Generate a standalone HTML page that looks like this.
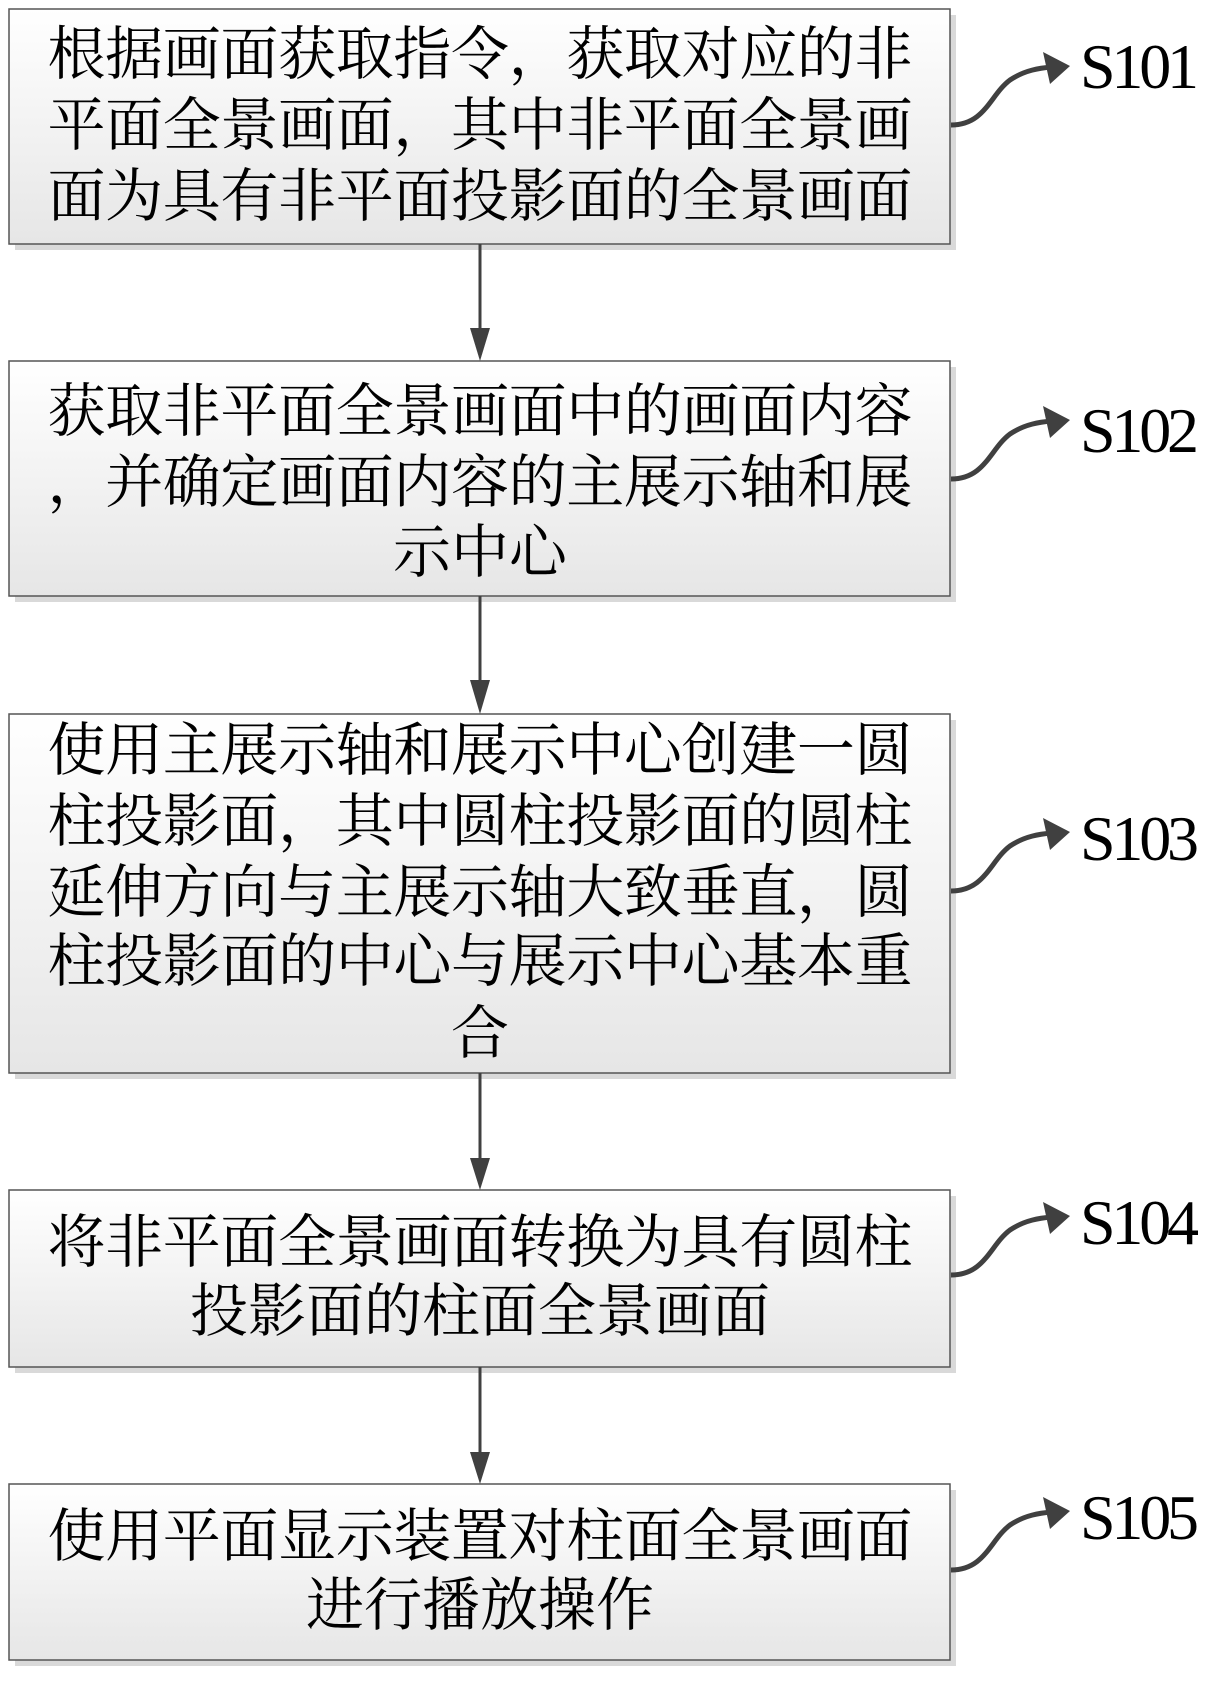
<!DOCTYPE html>
<html><head><meta charset="utf-8"><style>
html,body{margin:0;padding:0;background:#fff;}
svg{display:block;}
.t{font-family:"Liberation Serif","Noto Serif CJK SC",serif;font-size:58px;fill:#000;}
.l{font-family:"Liberation Serif",serif;font-size:64px;fill:#000;}
</style></head><body>
<svg width="1209" height="1681" viewBox="0 0 1209 1681" xmlns="http://www.w3.org/2000/svg">
<defs>
<linearGradient id="g" x1="0" y1="0" x2="0" y2="1">
<stop offset="0" stop-color="#ffffff"/><stop offset="1" stop-color="#e6e6e6"/>
</linearGradient>
</defs>
<g fill="#d9d9d9">
<rect x="15" y="15" width="941" height="235"/>
<rect x="15" y="367" width="941" height="235"/>
<rect x="15" y="720" width="941" height="359"/>
<rect x="15" y="1196" width="941" height="177"/>
<rect x="15" y="1490" width="941" height="176"/>
</g>
<g fill="url(#g)" stroke="#555" stroke-width="1.5">
<rect x="9" y="9" width="941" height="235"/>
<rect x="9" y="361" width="941" height="235"/>
<rect x="9" y="714" width="941" height="359"/>
<rect x="9" y="1190" width="941" height="177"/>
<rect x="9" y="1484" width="941" height="176"/>
</g>
<g stroke="#404040" stroke-width="3">
<line x1="480" y1="244" x2="480" y2="340"/>
<line x1="480" y1="596" x2="480" y2="690"/>
<line x1="480" y1="1073" x2="480" y2="1170"/>
<line x1="480" y1="1367" x2="480" y2="1464"/>
</g>
<g fill="#404040">
<polygon points="470,328 490,328 480,361"/>
<polygon points="470,680 490,680 480,714"/>
<polygon points="470,1158 490,1158 480,1190"/>
<polygon points="470,1452 490,1452 480,1484"/>
</g>
<g class="t" text-anchor="middle">
<text x="480" y="74" textLength="865">根据画面获取指令，获取对应的非</text>
<text x="480" y="145" textLength="865">平面全景画面，其中非平面全景画</text>
<text x="480" y="216" textLength="865">面为具有非平面投影面的全景画面</text>
<text x="480" y="431" textLength="865">获取非平面全景画面中的画面内容</text>
<text x="480" y="502" textLength="865">，并确定画面内容的主展示轴和展</text>
<text x="480" y="572">示中心</text>
<text x="480" y="770" textLength="865">使用主展示轴和展示中心创建一圆</text>
<text x="480" y="841" textLength="865">柱投影面，其中圆柱投影面的圆柱</text>
<text x="480" y="912" textLength="865">延伸方向与主展示轴大致垂直，圆</text>
<text x="480" y="981" textLength="865">柱投影面的中心与展示中心基本重</text>
<text x="480" y="1053">合</text>
<text x="480" y="1262" textLength="865">将非平面全景画面转换为具有圆柱</text>
<text x="480" y="1331">投影面的柱面全景画面</text>
<text x="480" y="1556" textLength="865">使用平面显示装置对柱面全景画面</text>
<text x="480" y="1625">进行播放操作</text>
</g>
<g id="c1">
<path d="M951,125 C985,125 990,95 1010,80 C1025,70 1040,68 1052,67" fill="none" stroke="#404040" stroke-width="5"/>
<polygon points="1043,52 1070,66 1050,84" fill="#404040"/>
</g>
<use href="#c1" transform="translate(0,354)"/>
<use href="#c1" transform="translate(0,766)"/>
<use href="#c1" transform="translate(0,1150)"/>
<use href="#c1" transform="translate(0,1445)"/>
<g class="l">
<text x="1080" y="88" textLength="119">S101</text>
<text x="1080" y="452" textLength="119">S102</text>
<text x="1080" y="860" textLength="119">S103</text>
<text x="1080" y="1244" textLength="119">S104</text>
<text x="1080" y="1539" textLength="119">S105</text>
</g>
</svg>
</body></html>
